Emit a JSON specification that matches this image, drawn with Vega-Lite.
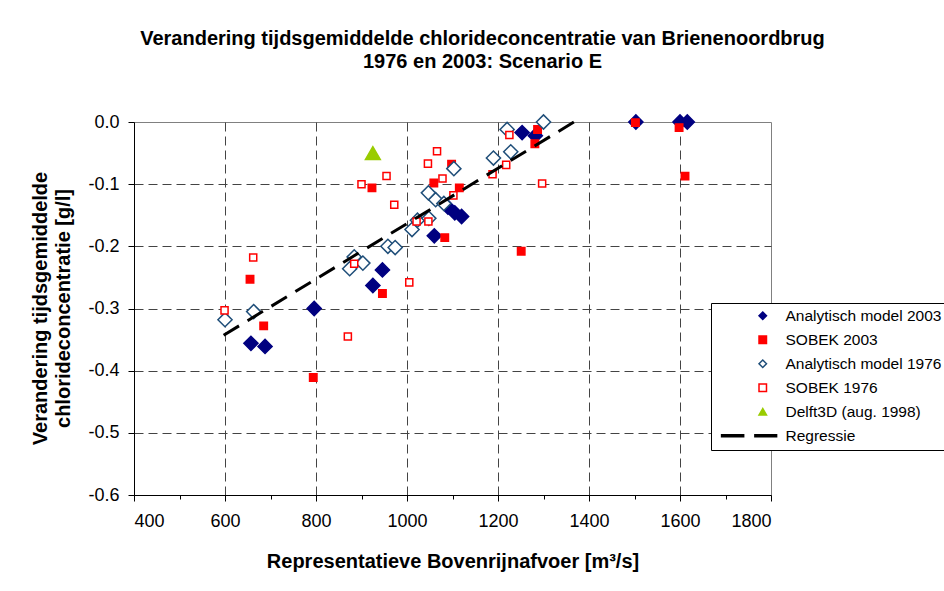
{
  "$schema": "https://vega.github.io/schema/vega-lite/v6.json",
  "autosize": {"type": "none"},
  "width": 637,
  "height": 373,
  "padding": {"left": 134, "top": 122, "right": 173, "bottom": 96},
  "background": "white",
  "title": {
    "text": ["Verandering tijdsgemiddelde chlorideconcentratie van Brienenoordbrug", "1976 en 2003: Scenario E"],
    "font": "Liberation Sans",
    "fontSize": 20,
    "fontWeight": "bold",
    "color": "black",
    "lineHeight": 23,
    "anchor": "middle",
    "frame": "group",
    "dx": 30,
    "offset": 40
  },
  "data": {
    "values": [
      {"series": "Analytisch model 2003", "Q": 657, "dC": -0.356},
      {"series": "Analytisch model 2003", "Q": 688, "dC": -0.361},
      {"series": "Analytisch model 2003", "Q": 796, "dC": -0.300},
      {"series": "Analytisch model 2003", "Q": 925, "dC": -0.263},
      {"series": "Analytisch model 2003", "Q": 946, "dC": -0.238},
      {"series": "Analytisch model 2003", "Q": 1060, "dC": -0.183},
      {"series": "Analytisch model 2003", "Q": 1090, "dC": -0.137},
      {"series": "Analytisch model 2003", "Q": 1105, "dC": -0.146},
      {"series": "Analytisch model 2003", "Q": 1120, "dC": -0.152},
      {"series": "Analytisch model 2003", "Q": 1253, "dC": -0.017},
      {"series": "Analytisch model 2003", "Q": 1282, "dC": -0.022},
      {"series": "Analytisch model 2003", "Q": 1503, "dC": 0.0},
      {"series": "Analytisch model 2003", "Q": 1600, "dC": 0.0},
      {"series": "Analytisch model 2003", "Q": 1616, "dC": 0.0},
      {"series": "SOBEK 2003", "Q": 655, "dC": -0.253},
      {"series": "SOBEK 2003", "Q": 685, "dC": -0.328},
      {"series": "SOBEK 2003", "Q": 794, "dC": -0.411},
      {"series": "SOBEK 2003", "Q": 923, "dC": -0.106},
      {"series": "SOBEK 2003", "Q": 946, "dC": -0.276},
      {"series": "SOBEK 2003", "Q": 1059, "dC": -0.098},
      {"series": "SOBEK 2003", "Q": 1083, "dC": -0.186},
      {"series": "SOBEK 2003", "Q": 1098, "dC": -0.068},
      {"series": "SOBEK 2003", "Q": 1115, "dC": -0.106},
      {"series": "SOBEK 2003", "Q": 1251, "dC": -0.208},
      {"series": "SOBEK 2003", "Q": 1281, "dC": -0.035},
      {"series": "SOBEK 2003", "Q": 1287, "dC": -0.012},
      {"series": "SOBEK 2003", "Q": 1502, "dC": -0.001},
      {"series": "SOBEK 2003", "Q": 1598, "dC": -0.009},
      {"series": "SOBEK 2003", "Q": 1611, "dC": -0.087},
      {"series": "Analytisch model 1976", "Q": 600, "dC": -0.318},
      {"series": "Analytisch model 1976", "Q": 663, "dC": -0.305},
      {"series": "Analytisch model 1976", "Q": 874, "dC": -0.236},
      {"series": "Analytisch model 1976", "Q": 884, "dC": -0.217},
      {"series": "Analytisch model 1976", "Q": 903, "dC": -0.227},
      {"series": "Analytisch model 1976", "Q": 958, "dC": -0.200},
      {"series": "Analytisch model 1976", "Q": 974, "dC": -0.202},
      {"series": "Analytisch model 1976", "Q": 1011, "dC": -0.173},
      {"series": "Analytisch model 1976", "Q": 1023, "dC": -0.158},
      {"series": "Analytisch model 1976", "Q": 1048, "dC": -0.155},
      {"series": "Analytisch model 1976", "Q": 1047, "dC": -0.114},
      {"series": "Analytisch model 1976", "Q": 1063, "dC": -0.125},
      {"series": "Analytisch model 1976", "Q": 1081, "dC": -0.131},
      {"series": "Analytisch model 1976", "Q": 1103, "dC": -0.075},
      {"series": "Analytisch model 1976", "Q": 1190, "dC": -0.058},
      {"series": "Analytisch model 1976", "Q": 1228, "dC": -0.048},
      {"series": "Analytisch model 1976", "Q": 1220, "dC": -0.012},
      {"series": "Analytisch model 1976", "Q": 1300, "dC": 0.0},
      {"series": "SOBEK 1976", "Q": 599, "dC": -0.303},
      {"series": "SOBEK 1976", "Q": 662, "dC": -0.218},
      {"series": "SOBEK 1976", "Q": 870, "dC": -0.345},
      {"series": "SOBEK 1976", "Q": 884, "dC": -0.228},
      {"series": "SOBEK 1976", "Q": 900, "dC": -0.100},
      {"series": "SOBEK 1976", "Q": 955, "dC": -0.087},
      {"series": "SOBEK 1976", "Q": 972, "dC": -0.133},
      {"series": "SOBEK 1976", "Q": 1005, "dC": -0.258},
      {"series": "SOBEK 1976", "Q": 1021, "dC": -0.160},
      {"series": "SOBEK 1976", "Q": 1047, "dC": -0.160},
      {"series": "SOBEK 1976", "Q": 1046, "dC": -0.067},
      {"series": "SOBEK 1976", "Q": 1066, "dC": -0.047},
      {"series": "SOBEK 1976", "Q": 1078, "dC": -0.091},
      {"series": "SOBEK 1976", "Q": 1102, "dC": -0.118},
      {"series": "SOBEK 1976", "Q": 1188, "dC": -0.084},
      {"series": "SOBEK 1976", "Q": 1218, "dC": -0.069},
      {"series": "SOBEK 1976", "Q": 1225, "dC": -0.021},
      {"series": "SOBEK 1976", "Q": 1297, "dC": -0.099},
      {"series": "Delft3D (aug. 1998)", "Q": 925, "dC": -0.050},
      {"series": "Regressie", "Q": 597, "dC": -0.343},
      {"series": "Regressie", "Q": 1367, "dC": 0.0}
    ]
  },
  "layer": [
    {
      "encoding": {
        "x": {
          "field": "Q", "type": "quantitative",
          "scale": {"domain": [400, 1800], "nice": false, "zero": false},
          "axis": {
            "title": "Representatieve Bovenrijnafvoer [m³/s]",
            "values": [400, 500, 600, 700, 800, 900, 1000, 1100, 1200, 1300, 1400, 1500, 1600, 1700, 1800],
            "format": "d",
            "labelExpr": "datum.value % 200 === 0 ? datum.label : ''",
            "tickSize": {"condition": {"test": "datum.value % 200 !== 0", "value": 4}, "value": 6},
            "gridOpacity": {"condition": {"test": "datum.value % 200 !== 0 || datum.value === 1800 || datum.value === 400", "value": 0}, "value": 1},
            "labelPadding": 11,
            "titlePadding": 21
          }
        },
        "y": {
          "field": "dC", "type": "quantitative",
          "scale": {"domain": [-0.6, 0], "nice": false, "zero": false},
          "axis": {
            "title": ["Verandering tijdsgemiddelde", "chlorideconcentratie [g/l]"],
            "values": [-0.6, -0.5, -0.4, -0.3, -0.2, -0.1, 0],
            "format": ".1f",
            "labelExpr": "replace(datum.label, '−', '-')",
            "tickSize": 6,
            "labelPadding": 9,
            "gridOpacity": {"condition": {"test": "datum.value === 0", "value": 0}, "value": 1},
            "titleAngle": -90,
            "titleAlign": "center",
            "titleBaseline": "top",
            "titleX": -104,
            "titleY": 186,
            "titleLineHeight": 23
          }
        },
        "shape": {
          "field": "series", "type": "nominal",
          "scale": {
            "domain": ["Analytisch model 2003", "SOBEK 2003", "Analytisch model 1976", "SOBEK 1976", "Delft3D (aug. 1998)", "Regressie"],
            "range": ["diamond", "square", "diamond", "square", "triangle-up", "M-11,-0.25H-5.1V0.25H-11ZM-2.1,-0.25H3.7V0.25H-2.1Z"]
          }
        },
        "fill": {
          "field": "series", "type": "nominal",
          "scale": {
            "domain": ["Analytisch model 2003", "SOBEK 2003", "Analytisch model 1976", "SOBEK 1976", "Delft3D (aug. 1998)", "Regressie"],
            "range": ["#000080", "#FF0000", "#FFFFFF", "#FFFFFF", "#99CC00", "#000000"]
          },
          "legend": {"orient": "none", "legendX": 577, "legendY": 181, "title": null}
        },
        "stroke": {
          "field": "series", "type": "nominal",
          "scale": {
            "domain": ["Analytisch model 2003", "SOBEK 2003", "Analytisch model 1976", "SOBEK 1976", "Delft3D (aug. 1998)", "Regressie"],
            "range": ["#000080", "#FF0000", "#1F4E79", "#FF0000", "#99CC00", "#000000"]
          }
        }
      },
      "layer": [
        {
          "transform": [{"filter": "datum.series === 'Analytisch model 2003'"}],
          "mark": {"type": "point", "filled": true, "opacity": 1, "strokeWidth": 1.5, "size": 200, "clip": false}
        },
        {
          "transform": [{"filter": "datum.series === 'SOBEK 2003'"}],
          "mark": {"type": "point", "filled": true, "opacity": 1, "strokeWidth": 1.5, "size": 55, "clip": false}
        },
        {
          "transform": [{"filter": "datum.series === 'Analytisch model 1976'"}],
          "mark": {"type": "point", "filled": true, "opacity": 1, "strokeWidth": 1.5, "size": 200, "clip": false}
        },
        {
          "transform": [{"filter": "datum.series === 'SOBEK 1976'"}],
          "mark": {"type": "point", "filled": true, "opacity": 1, "strokeWidth": 1.5, "size": 50, "clip": false}
        },
        {
          "transform": [{"filter": "datum.series === 'Delft3D (aug. 1998)'"}],
          "mark": {"type": "point", "filled": true, "opacity": 1, "strokeWidth": 1.5, "size": 220, "clip": false}
        }
      ]
    },
    {
      "transform": [{"filter": "datum.series === 'Regressie'"}],
      "mark": {"type": "line", "strokeDash": [18, 10], "strokeWidth": 3, "clip": false},
      "encoding": {
        "x": {"field": "Q", "type": "quantitative"},
        "y": {"field": "dC", "type": "quantitative"},
        "stroke": {"field": "series", "type": "nominal"}
      }
    }
  ],
  "config": {
    "font": "Liberation Sans",
    "view": {"stroke": "#808080", "strokeWidth": 1},
    "axis": {
      "labelFont": "Liberation Sans",
      "labelFontSize": 18,
      "labelColor": "black",
      "titleFont": "Liberation Sans",
      "titleFontSize": 20,
      "titleFontWeight": "bold",
      "titleColor": "black",
      "domainColor": "black",
      "domainWidth": 1,
      "tickColor": "black",
      "tickWidth": 1,
      "grid": true,
      "gridColor": "#444444",
      "gridDash": [9, 5],
      "gridWidth": 1
    },
    "legend": {
      "labelFont": "Liberation Sans",
      "labelFontSize": 15.5,
      "labelColor": "black",
      "strokeColor": "black",
      "strokeWidth": 1,
      "fillColor": "white",
      "padding": 5,
      "rowPadding": 7,
      "symbolSize": 56,
      "symbolOffset": 39,
      "labelOffset": 15,
      "symbolStrokeWidth": 1.5,
      "labelLimit": 400
    }
  }
}
